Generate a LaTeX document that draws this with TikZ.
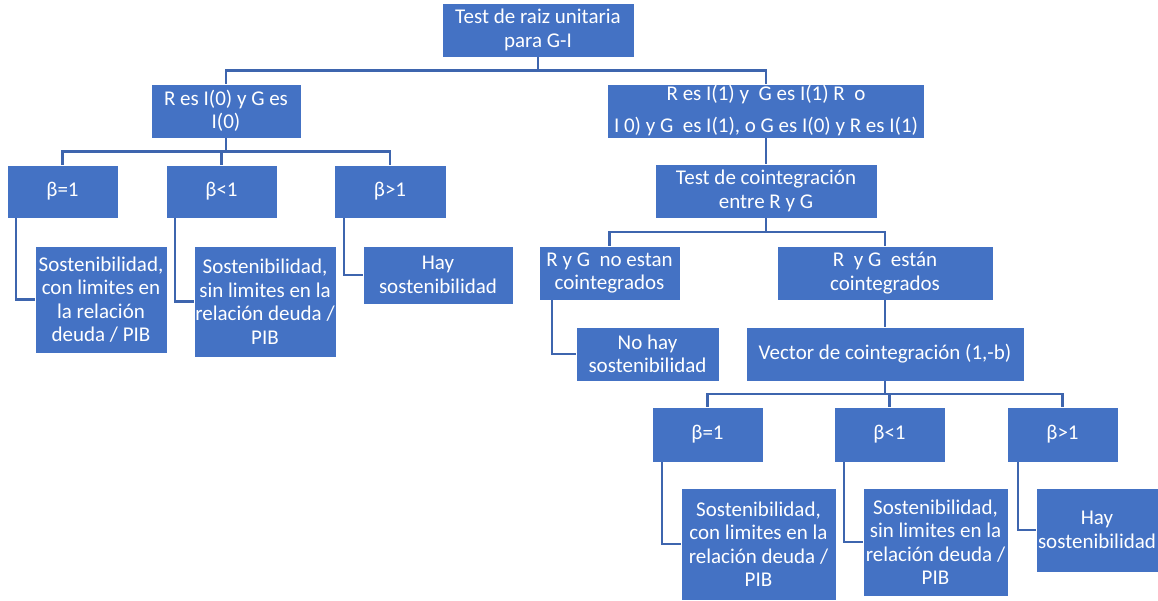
\documentclass[tikz,border=0pt]{standalone}
\usepackage{fontspec}
\setmainfont{Carlito}
\usetikzlibrary{calc}
\definecolor{boxblue}{RGB}{68,114,196}
\definecolor{linkblue}{RGB}{62,101,174}
\begin{document}
\begin{tikzpicture}[x=1pt,y=-1pt,
  box/.style={fill=boxblue, draw=white, line width=0.8pt, text=white, align=center,
    inner sep=0pt, font=\fontsize{21}{23.5}\selectfont},
  link/.style={draw=linkblue, line width=2.2pt}]
\useasboundingbox (0,0) rectangle (1158,601);
% level 0
\node[box, minimum width=192pt, minimum height=54pt] (top) at (538,30) {Test de raiz unitaria\\para G-I};
% level 1
\node[box, minimum width=150pt, minimum height=54pt] (l1a) at (226,111) {R es I(0) y G es\\I(0)};
\node[box, minimum width=317pt, minimum height=54pt, font=\fontsize{21}{32}\selectfont] (l1b) at (766,111) {R es I(1) y\ \ G es I(1) R\ \ o\\I 0) y G\ \ es I(1), o G es I(0) y R es I(1)};
% left branch
\node[box, minimum width=111pt, minimum height=53pt] (a1) at (62.5,191.5) {β=1};
\node[box, minimum width=111pt, minimum height=53pt] (a2) at (221.5,191.5) {β<1};
\node[box, minimum width=112pt, minimum height=53pt] (a3) at (390,191.5) {β>1};
\node[box, minimum width=132pt, minimum height=107pt] (ac1) at (101,299.5) {Sostenibilidad,\\con limites en\\la relación\\deuda / PIB};
\node[box, minimum width=142pt, minimum height=111pt] (ac2) at (265,301.5) {Sostenibilidad,\\sin limites en la\\relación deuda /\\PIB};
\node[box, minimum width=150pt, minimum height=58pt] (ac3) at (438,275) {Hay\\sostenibilidad};
% right branch
\node[box, minimum width=222pt, minimum height=54pt] (test) at (766,191) {Test de cointegración\\entre R y G};
\node[box, minimum width=141pt, minimum height=54pt] (ne) at (609.5,273) {R y G\ \ no estan\\cointegrados};
\node[box, minimum width=216pt, minimum height=54pt] (es) at (885,273) {R\ \ y G\ \ están\\cointegrados};
\node[box, minimum width=143pt, minimum height=54pt] (nh) at (647.5,354) {No hay\\sostenibilidad};
\node[box, minimum width=278pt, minimum height=54pt] (vec) at (885,354) {Vector de cointegración (1,-b)};
\node[box, minimum width=111pt, minimum height=55pt] (b1) at (707.5,434.5) {β=1};
\node[box, minimum width=111pt, minimum height=55pt] (b2) at (889.5,434.5) {β<1};
\node[box, minimum width=111pt, minimum height=55pt] (b3) at (1062.5,434.5) {β>1};
\node[box, minimum width=155pt, minimum height=112pt] (bc1) at (758.5,544) {Sostenibilidad,\\con limites en la\\relación deuda /\\PIB};
\node[box, minimum width=145pt, minimum height=108pt] (bc2) at (935.5,542) {Sostenibilidad,\\sin limites en la\\relación deuda /\\PIB};
\node[box, minimum width=122pt, minimum height=84pt] (bc3) at (1097,530) {Hay\\sostenibilidad};
% tree connectors
\draw[link] (top.south) |- ($(top.south)!.5!(l1a.north)$) -| (l1a.north);
\draw[link] (top.south) |- ($(top.south)!.5!(l1b.north)$) -| (l1b.north);
\foreach \c in {a1,a2,a3}
  \draw[link] (l1a.south) |- ($(l1a.south)!.5!(\c.north)$) -| (\c.north);
\draw[link] (l1b.south) -- (test.north);
\foreach \c in {ne,es}
  \draw[link] (test.south) |- ($(test.south)!.5!(\c.north)$) -| (\c.north);
\draw[link] (es.south) -- (vec.north);
\foreach \c in {b1,b2,b3}
  \draw[link] (vec.south) |- ($(vec.south)!.5!(\c.north)$) -| (\c.north);
% side connectors
\draw[link] ([xshift=9pt]a1.south west) |- (ac1.west);
\draw[link] ([xshift=9pt]a2.south west) |- (ac2.west);
\draw[link] ([xshift=10pt]a3.south west) |- (ac3.west);
\draw[link] ([xshift=13pt]ne.south west) |- (nh.west);
\draw[link] ([xshift=10pt]b1.south west) |- (bc1.west);
\draw[link] ([xshift=10pt]b2.south west) |- (bc2.west);
\draw[link] ([xshift=11pt]b3.south west) |- (bc3.west);
\end{tikzpicture}
\end{document}
